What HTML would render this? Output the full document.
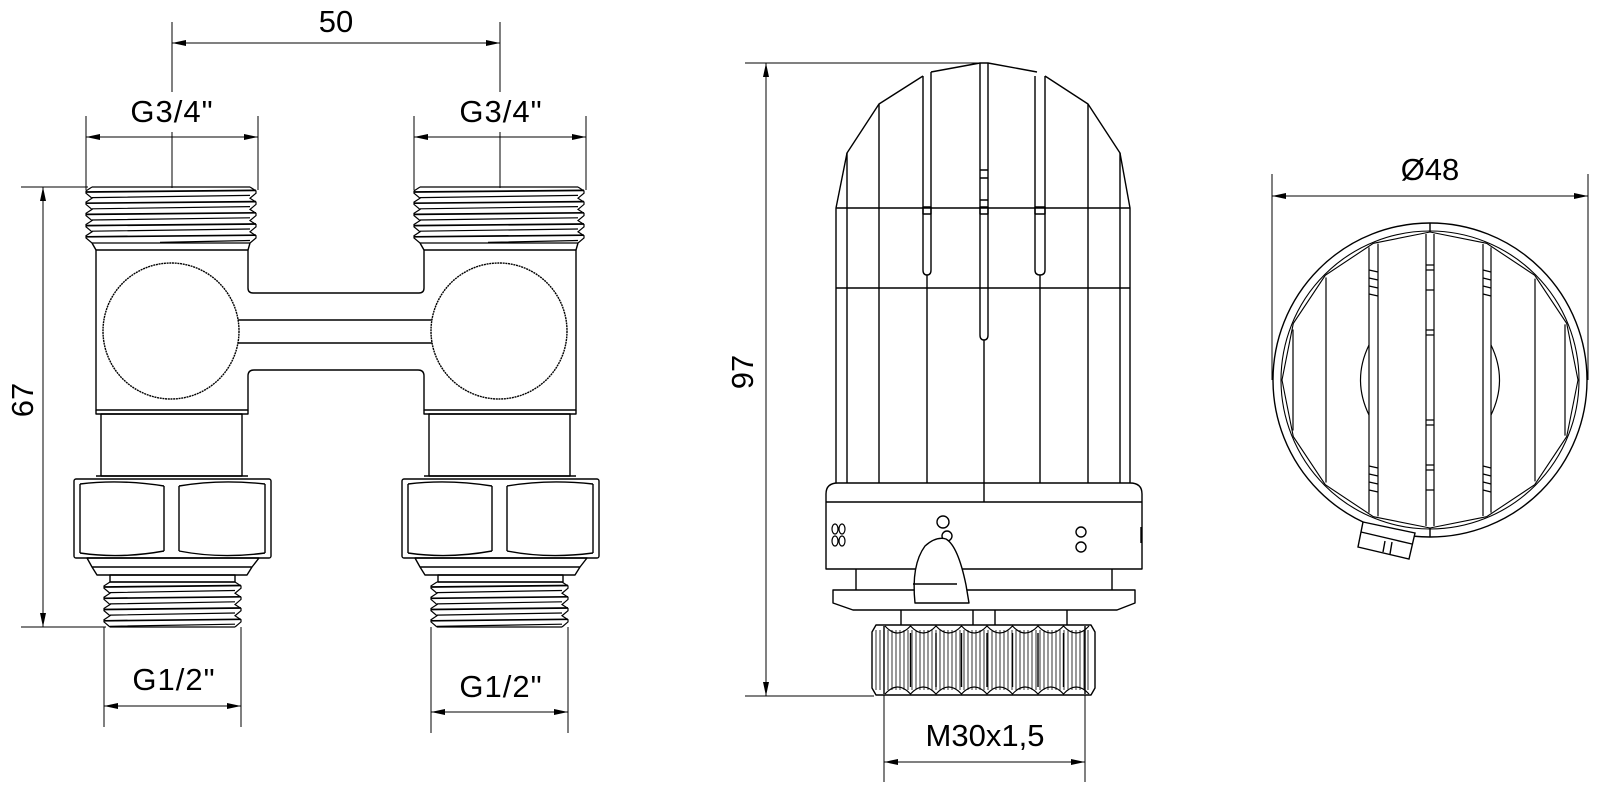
<!DOCTYPE html>
<html><head><meta charset="utf-8"><style>
html,body{margin:0;padding:0;background:#fff}
svg{display:block}
text{font-family:"Liberation Sans",sans-serif;fill:#000}
</style></head><body>
<svg width="1600" height="792" viewBox="0 0 1600 792" xmlns="http://www.w3.org/2000/svg">
<defs>
<marker id="a" viewBox="0 0 14 6" refX="14" refY="3" markerWidth="14" markerHeight="6" orient="auto-start-reverse" markerUnits="userSpaceOnUse"><path d="M0,0 L14,3 L0,6 Z" fill="#000"/></marker>
<g id="tu" fill="none" stroke="#000" stroke-width="1.2">
<path d="M92,187 L86,190.9 L86,193.2 L92,198.2 L86,202.1 L86,204.4 L92,209.4 L86,213.3 L86,215.6 L92,220.6 L86,224.5 L86,226.8 L92,231.8 L86,235.7 L86,238 L92,243"/>
<path d="M250,187 L256,190.9 L256,193.2 L250,198.2 L256,202.1 L256,204.4 L250,209.4 L256,213.3 L256,215.6 L250,220.6 L256,224.5 L256,226.8 L250,231.8 L256,235.7 L256,238 L250,243"/>
<path d="M92,187 H250 M92,243 H250"/>
<path stroke-width="1.7" d="M86,192 L256,190.4 M86,203.2 L256,201.6 M86,214.4 L256,212.8 M86,225.6 L256,224 M86,236.8 L256,235.2"/>
<path d="M92,197.6 L250,195.4 M92,208.8 L250,206.6 M92,220 L250,217.8 M92,231.2 L250,229 M160,242.4 L250,240.5"/>
<path stroke-width="1.4" d="M92,243 L96,250 M250,243 L248,250"/>
</g>
<g id="tl" fill="none" stroke="#000" stroke-width="1.2">
<path d="M110,582 L104,585.9 L104,588.2 L110,593.25 L104,597.2 L104,599.4 L110,604.5 L104,608.4 L104,610.7 L110,615.75 L104,619.7 L104,621.9 L110,627"/>
<path d="M235,582 L241,585.9 L241,588.2 L235,593.25 L241,597.2 L241,599.4 L235,604.5 L241,608.4 L241,610.7 L235,615.75 L241,619.7 L241,621.9 L235,627"/>
<path d="M110,582 H235 M110,627 H235"/>
<path stroke-width="1.7" d="M104,587 L241,585.5 M104,598.3 L241,596.8 M104,609.5 L241,608 M104,620.8 L241,619.3"/>
<path d="M110,592.6 L235,590.5 M110,603.9 L235,601.8 M110,615.1 L235,613 M110,626.3 L235,624.2"/>
</g>
</defs>
<g fill="none" stroke="#000" stroke-width="1">
<line x1="172" y1="22" x2="172" y2="92"/><line x1="172" y1="132" x2="172" y2="188"/>
<line x1="500" y1="22" x2="500" y2="92"/><line x1="500" y1="132" x2="500" y2="188"/>
<line x1="172" y1="43" x2="500" y2="43" marker-start="url(#a)" marker-end="url(#a)"/>
<line x1="86" y1="116" x2="86" y2="190"/><line x1="258" y1="116" x2="258" y2="190"/>
<line x1="86" y1="137" x2="258" y2="137" marker-start="url(#a)" marker-end="url(#a)"/>
<line x1="414" y1="116" x2="414" y2="190"/><line x1="586" y1="116" x2="586" y2="190"/>
<line x1="414" y1="137" x2="586" y2="137" marker-start="url(#a)" marker-end="url(#a)"/>
<line x1="21" y1="187" x2="88" y2="187"/><line x1="21" y1="627" x2="106" y2="627"/>
<line x1="43" y1="187" x2="43" y2="627" marker-start="url(#a)" marker-end="url(#a)"/>
<line x1="104" y1="627" x2="104" y2="727"/><line x1="241" y1="627" x2="241" y2="727"/>
<line x1="104" y1="706" x2="241" y2="706" marker-start="url(#a)" marker-end="url(#a)"/>
<line x1="431" y1="627" x2="431" y2="733"/><line x1="568" y1="627" x2="568" y2="733"/>
<line x1="431" y1="712" x2="568" y2="712" marker-start="url(#a)" marker-end="url(#a)"/>
<line x1="745" y1="63" x2="983" y2="63"/><line x1="745" y1="696" x2="874" y2="696"/>
<line x1="766" y1="63" x2="766" y2="696" marker-start="url(#a)" marker-end="url(#a)"/>
<line x1="884" y1="695" x2="884" y2="782"/><line x1="1085" y1="695" x2="1085" y2="782"/>
<line x1="884" y1="762" x2="1085" y2="762" marker-start="url(#a)" marker-end="url(#a)"/>
<line x1="1272" y1="174" x2="1272" y2="380"/><line x1="1588" y1="174" x2="1588" y2="380"/>
<line x1="1272" y1="196" x2="1588" y2="196" marker-start="url(#a)" marker-end="url(#a)"/>
</g>
<g font-size="31" text-anchor="middle">
<text x="336" y="32">50</text>
<text x="172" y="122" letter-spacing="1">G3/4"</text>
<text x="501" y="122" letter-spacing="1">G3/4"</text>
<text x="174" y="690" letter-spacing="1">G1/2"</text>
<text x="501" y="697" letter-spacing="1">G1/2"</text>
<text x="985" y="746">M30x1,5</text>
<text x="1430" y="180">Ø48</text>
<text transform="translate(33,400) rotate(-90)">67</text>
<text transform="translate(753,372) rotate(-90)">97</text>
</g>

<use href="#tu"/><use href="#tu" transform="translate(328,0)"/>
<use href="#tl"/><use href="#tl" transform="translate(327,0)"/>

<g fill="none" stroke="#000" stroke-width="1.4" stroke-linejoin="round">
<path d="M96,250 H248 V288 Q248,293 253,293 H419 Q424,293 424,288 V250 H576 V410 H424 V376 Q424,370 418,370 H254 Q248,370 248,376 V410 H96 Z"/>
<line x1="230" y1="320" x2="440" y2="320"/><line x1="230" y1="343" x2="440" y2="343"/>
<g id="v">
<path d="M96,410 V414 H248 V410"/>
<rect x="101" y="414" width="141" height="62"/>
<path d="M96,476 H248"/>
<rect x="74" y="479" width="197" height="79" rx="2"/>
<path d="M80,484 V553 M265,484 V553 M164,486 V551 M179,486 V551"/>
<path d="M80,484 Q120,479 164,486 M179,486 Q220,479 265,484 M80,553 Q120,559 164,551 M179,551 Q220,559 265,553"/>
<path d="M87,558 H259 L252,567 L247,575 H97 L92,567 Z M92,567 H252"/>
<rect x="110" y="575" width="125" height="7"/>
</g>
<use href="#v" transform="translate(328,0)"/>
<circle cx="171" cy="331" r="68" fill="#fff" stroke-dasharray="2 0.7"/>
<circle cx="499" cy="331" r="68" fill="#fff" stroke-dasharray="2 0.7"/>
</g>

<g fill="none" stroke="#000" stroke-width="1.4" stroke-linejoin="round">
<path d="M836,483 V208 L847,153 L879,104 L923,76 M931,72 L980,63 H988 L1037,72 M1045,76 L1088,104 L1120,153 L1130,208 V483"/>
<path d="M836,208 H1130 M836,288 H1130"/>
<path d="M847,153 V483 M879,104 V483 M1088,104 V483 M1120,153 V483"/>
<path d="M923,76 V270 Q923,275 927,275 Q931,275 931,270 V72"/>
<path d="M1035,76 V270 Q1035,275 1040,275 Q1045,275 1045,270 V76"/>
<path d="M980,63 V335 Q980,340 984,340 Q988,340 988,335 V63"/>
<path d="M927,275 V483 M1040,275 V483 M984,340 V502"/>
<path d="M923,207 h8 v7 h-8z M1035,207 h10 v7 h-10z M980,207 h8 v7 h-8z M980,170 h8 M980,178 h8 M980,200 h8"/>
<path d="M826,569 V494 Q826,483 838,483 H1130 Q1142,483 1142,494 V569 Z M826,502 H1142"/>
<path d="M1141,527 V543"/>
<path d="M856,569 V590 M1112,569 V590"/>
<path d="M833,590 H1135 V603 L1117,610 H853 L833,603 Z"/>
<path d="M901,610 V625 M1067,610 V625 M973,610 V625 M995,610 V625"/>
<circle cx="943" cy="522" r="6"/><circle cx="947" cy="536" r="5"/>
<path fill="#fff" d="M915,603 Q911,565 925,546 Q936,536 946,539 Q958,546 966,585 L969,603 Z M913,584 H957"/>
<circle cx="1081" cy="532" r="5"/><circle cx="1081" cy="547" r="5"/>
<g stroke-width="1.2"><ellipse cx="835" cy="529" rx="3" ry="5"/><ellipse cx="842" cy="529" rx="3" ry="5"/><ellipse cx="835" cy="541" rx="3" ry="5"/><ellipse cx="842" cy="541" rx="3" ry="5"/></g>
<path d="M876,625 H1091 L1095,632 V688 L1091,695 H876 L872,688 V632 Z"/>
</g>
<g fill="none" stroke="#000" stroke-width="0.8">
<path d="M876,630V690M880,630V690M884,630V690M888,630V690M892,630V690M896,630V690M900,630V690M904,630V690M908,630V690M912,630V690M916,630V690M920,630V690M924,630V690M928,630V690M932,630V690M936,630V690M940,630V690M944,630V690M948,630V690M952,630V690M956,630V690M960,630V690M964,630V690M968,630V690M972,630V690M976,630V690M980,630V690M984,630V690M988,630V690M992,630V690M996,630V690M1000,630V690M1004,630V690M1008,630V690M1012,630V690M1016,630V690M1020,630V690M1024,630V690M1028,630V690M1032,630V690M1036,630V690M1040,630V690M1044,630V690M1048,630V690M1052,630V690M1056,630V690M1060,630V690M1064,630V690M1068,630V690M1072,630V690M1076,630V690M1080,630V690M1084,630V690M1088,630V690"/>
<path stroke-width="1.2" d="M885,626 Q897.7,640 910.5,626 Q923.2,640 936,626 Q948.7,640 961.5,626 Q974.2,640 987,626 Q999.7,640 1012.5,626 Q1025.2,640 1038,626 Q1050.7,640 1063.5,626 Q1076.2,640 1089,626 M885,694 Q897.7,680 910.5,694 Q923.2,680 936,694 Q948.7,680 961.5,694 Q974.2,680 987,694 Q999.7,680 1012.5,694 Q1025.2,680 1038,694 Q1050.7,680 1063.5,694 Q1076.2,680 1089,694"/>
<path stroke-width="1.4" d="M884,626 V694 M1085,626 V694 M910.5,633V687 M936,633V687 M961.5,633V687 M987,633V687 M1012.5,633V687 M1038,633V687 M1063.5,633V687"/>
</g>

<g fill="none" stroke="#000" stroke-width="1.4">
<circle cx="1430" cy="380" r="157"/>
<circle cx="1430" cy="380" r="149" stroke-width="1.1"/>
<polygon stroke-width="1.1" points="1282,380 1293.3,323.4 1325.3,275.3 1373.4,243.3 1430,232 1486.6,243.3 1534.7,275.3 1566.7,323.4 1578,380 1566.7,436.6 1534.7,484.7 1486.6,516.7 1430,528 1373.4,516.7 1325.3,484.7 1293.3,436.6"/>
<path d="M1430,223 V232 M1430,528 V537"/>
<path fill="#fff" d="M1363,522 L1415,533 L1409,559 L1358,547 Z"/>
<path d="M1361,532 L1412,544 M1383,552 L1385,541 M1390,554 L1392,542"/>
</g>
<g fill="none" stroke="#000" stroke-width="1.2">
<path d="M1293,329.5V430.5 M1326,277.5V482.5 M1369,247.4V512.6 M1378,243.6V516.4 M1426,234V526 M1434,234V526 M1483,244V516 M1491,247.4V512.6 M1535,278.6V481.4 M1565,324.4V435.6"/>
<path d="M1369,270l9,2M1369,278l9,2M1369,286l9,2M1369,294l9,2M1369,466l9,2M1369,474l9,2M1369,482l9,2M1369,490l9,2M1483,270l8,2M1483,278l8,2M1483,286l8,2M1483,294l8,2M1483,466l8,2M1483,474l8,2M1483,482l8,2M1483,490l8,2"/>
<path d="M1426,265h8M1426,270h8M1426,290h8M1426,330h8M1426,335h8M1426,420h8M1426,425h8M1426,465h8M1426,470h8M1426,490h8"/>
<path d="M1369,345 Q1352,380 1369,415 M1491,345 Q1508,380 1491,415"/>
</g>
</svg>
</body></html>
